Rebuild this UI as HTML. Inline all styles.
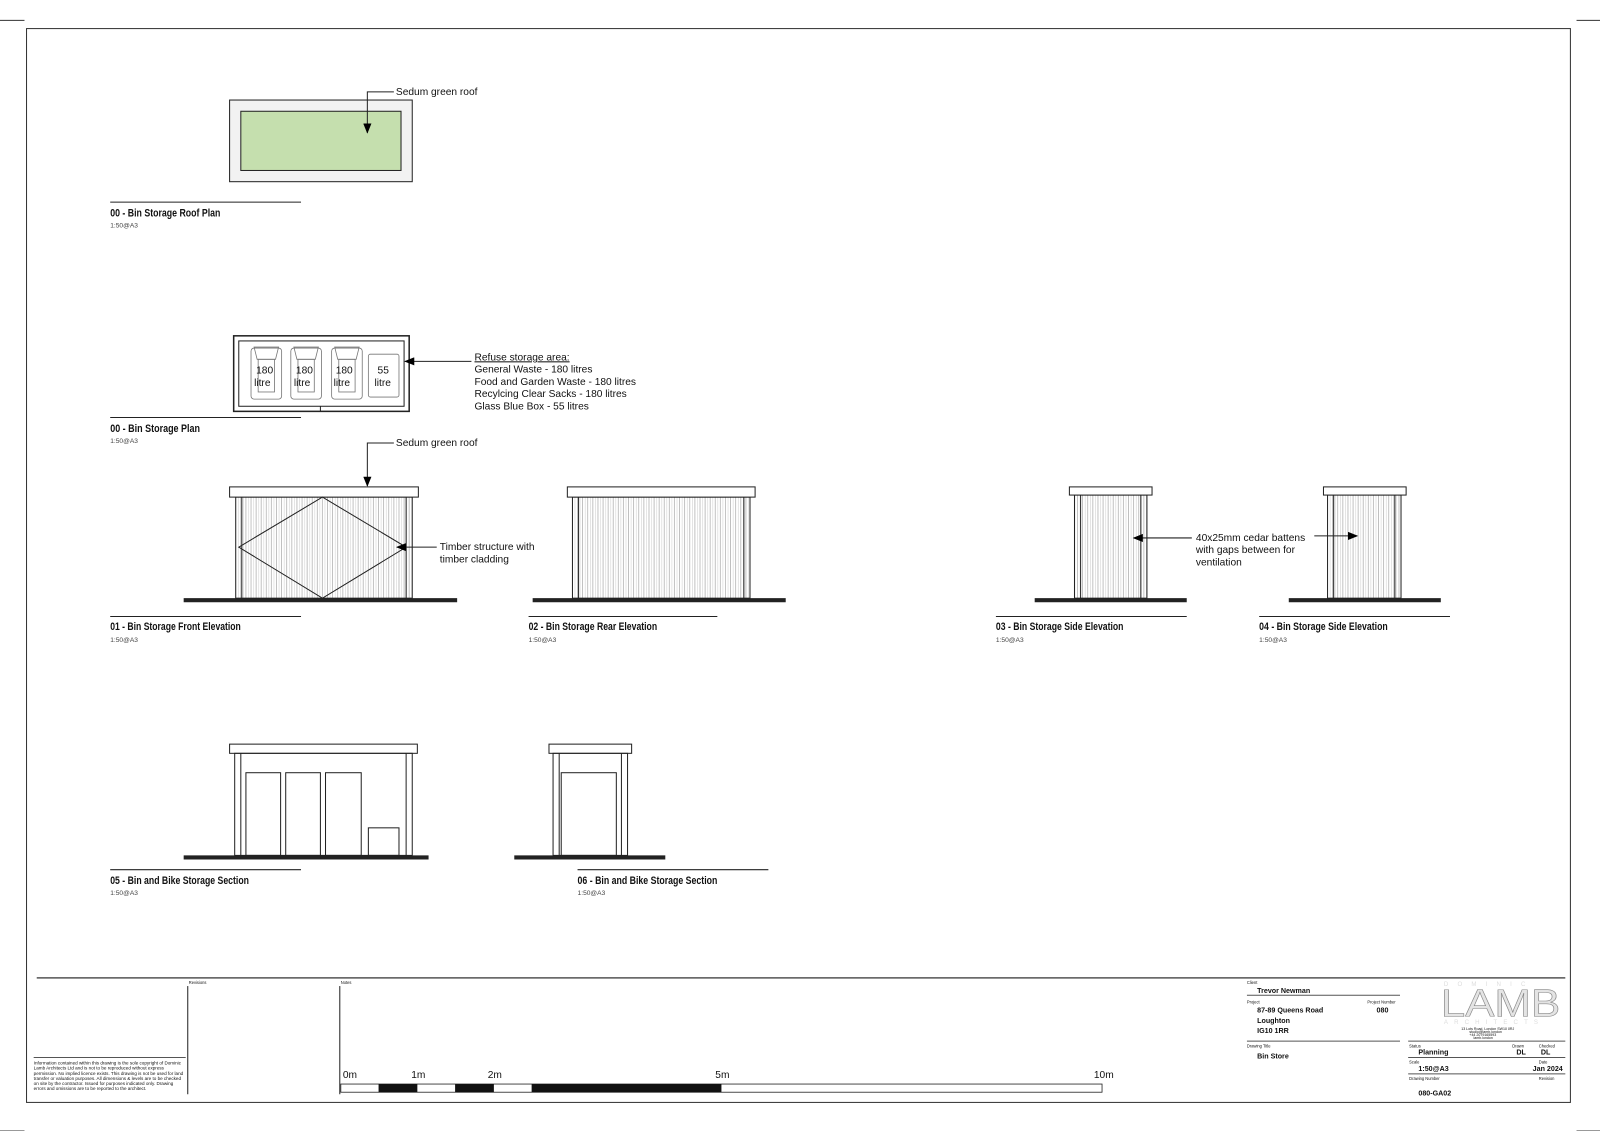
<!DOCTYPE html>
<html><head><meta charset="utf-8"><style>
html,body{margin:0;padding:0;background:#fff}
svg{display:block}
text{font-family:"Liberation Sans",sans-serif;fill:#111}
.t{font-weight:bold;font-size:10.5px;}
.s{font-size:6.5px;fill:#444}
.n{font-size:10px}
</style></head><body>
<svg width="1600" height="1131" viewBox="0 0 1568 1108" preserveAspectRatio="none" xmlns="http://www.w3.org/2000/svg">
<defs>
<pattern id="st" width="5" height="10" patternUnits="userSpaceOnUse">
<rect width="5" height="10" fill="#fff"/><line x1="1" y1="0" x2="1" y2="10" stroke="#aaa" stroke-width="0.7"/><line x1="3.5" y1="0" x2="3.5" y2="10" stroke="#ccc" stroke-width="0.5"/>
</pattern>
<marker id="ar" markerWidth="10" markerHeight="8" refX="9" refY="4" orient="auto" markerUnits="userSpaceOnUse"><path d="M0,0 L10,4 L0,8 z" fill="#000"/></marker>
</defs>
<rect x="26" y="28" width="1513" height="1052" fill="none" stroke="#333" stroke-width="1"/>
<line x1="0" y1="20" x2="24" y2="20" stroke="#333"/><line x1="1545" y1="20" x2="1568" y2="20" stroke="#333"/>
<line x1="0" y1="1108" x2="24" y2="1108" stroke="#333"/><line x1="1545" y1="1108" x2="1568" y2="1108" stroke="#333"/>

<g stroke="#222" stroke-width="1" fill="none">
<rect x="225" y="98" width="179" height="80" fill="#f2f2f2"/>
<rect x="236" y="109" width="157" height="58" fill="#c5dfae"/>
<polyline points="386,90 360,90 360,130" marker-end="url(#ar)"/>
<line x1="108" y1="198" x2="295" y2="198"/>
<rect x="229" y="329" width="172" height="74" stroke-width="1.5"/>
<rect x="234" y="334" width="162" height="64"/>
<line x1="314" y1="398" x2="314" y2="403"/>
<g stroke="#777" stroke-width="0.8">
<rect x="246" y="341" width="30" height="50" rx="3"/><rect x="285" y="341" width="30" height="50" rx="3"/><rect x="325" y="341" width="30" height="50" rx="3"/>
<path d="M249,340 l3,12 h18 l3,-12 z M288,340 l3,12 h18 l3,-12 z M328,340 l3,12 h18 l3,-12 z"/>
<rect x="253" y="352" width="16" height="32"/><rect x="292" y="352" width="16" height="32"/><rect x="332" y="352" width="16" height="32"/>
<rect x="361" y="347" width="30" height="42" rx="2"/>
</g>
<line x1="462" y1="354" x2="397" y2="354" marker-end="url(#ar)"/>
<line x1="108" y1="409" x2="295" y2="409"/>

<polyline points="386,434 360,434 360,476" marker-end="url(#ar)"/>
<rect x="231" y="487" width="173" height="99" fill="url(#st)"/>
<rect x="225" y="477" width="185" height="10" fill="#fff"/>
<line x1="237" y1="487" x2="237" y2="586"/><line x1="398" y1="487" x2="398" y2="586"/>
<polygon points="234,536 316,487 398,536 316,586"/>
<line x1="428" y1="536" x2="389" y2="536" marker-end="url(#ar)"/>
<line x1="180" y1="588" x2="448" y2="588" stroke-width="4"/>
<line x1="108" y1="604" x2="295" y2="604"/>
<rect x="561" y="487" width="174" height="99" fill="url(#st)"/>
<rect x="556" y="477" width="184" height="10" fill="#fff"/>
<line x1="567" y1="487" x2="567" y2="586"/><line x1="729" y1="487" x2="729" y2="586"/>
<line x1="522" y1="588" x2="770" y2="588" stroke-width="4"/>
<line x1="518" y1="604" x2="703" y2="604"/>
<rect x="1053" y="485" width="71" height="101" fill="url(#st)"/>
<rect x="1048" y="477" width="81" height="8" fill="#fff"/>
<line x1="1059" y1="485" x2="1059" y2="586"/><line x1="1118" y1="485" x2="1118" y2="586"/>
<line x1="1168" y1="527" x2="1111" y2="527" marker-end="url(#ar)"/>
<line x1="1014" y1="588" x2="1163" y2="588" stroke-width="4"/>
<line x1="976" y1="604" x2="1163" y2="604"/>
<rect x="1301" y="485" width="72" height="101" fill="url(#st)"/>
<rect x="1297" y="477" width="81" height="8" fill="#fff"/>
<line x1="1307" y1="485" x2="1307" y2="586"/><line x1="1367" y1="485" x2="1367" y2="586"/>
<line x1="1288" y1="525" x2="1330" y2="525" marker-end="url(#ar)"/>
<line x1="1263" y1="588" x2="1412" y2="588" stroke-width="4"/>
<line x1="1234" y1="604" x2="1421" y2="604"/>
<rect x="230" y="738" width="174" height="100"/>
<rect x="225" y="729" width="184" height="9"/>
<line x1="236" y1="738" x2="236" y2="838"/><line x1="398" y1="738" x2="398" y2="838"/>
<rect x="241" y="757" width="34" height="81"/><rect x="280" y="757" width="34" height="81"/><rect x="319" y="757" width="35" height="81"/>
<rect x="361" y="811" width="30" height="27"/>
<line x1="180" y1="840" x2="420" y2="840" stroke-width="4"/>
<line x1="108" y1="852" x2="295" y2="852"/>
<rect x="542" y="738" width="73" height="100"/>
<rect x="538" y="729" width="81" height="9"/>
<line x1="548" y1="738" x2="548" y2="838"/><line x1="609" y1="738" x2="609" y2="838"/>
<rect x="550" y="757" width="54" height="81"/>
<line x1="504" y1="840" x2="652" y2="840" stroke-width="4"/>
<line x1="566" y1="852" x2="753" y2="852"/>

<line x1="36" y1="958" x2="1534" y2="958" stroke="#555" stroke-width="1.5"/>
<line x1="184" y1="966" x2="184" y2="1072"/>
<line x1="333" y1="966" x2="333" y2="1072"/>
<line x1="33" y1="1036" x2="182" y2="1036" stroke="#555"/>
<rect x="334" y="1062" width="746" height="8" stroke-width="0.8"/>
<line x1="1222" y1="975" x2="1372" y2="975" stroke="#555"/>
<line x1="1222" y1="1020" x2="1372" y2="1020" stroke="#555"/>
<line x1="1380" y1="1020" x2="1534" y2="1020" stroke="#555"/>
<line x1="1380" y1="1036" x2="1534" y2="1036" stroke="#555"/>
<line x1="1380" y1="1052" x2="1534" y2="1052" stroke="#555"/>
</g>
<rect x="371" y="1062" width="38" height="8" fill="#111"/>
<rect x="446" y="1062" width="38" height="8" fill="#111"/>
<rect x="521" y="1062" width="186" height="8" fill="#111"/>

<text x="388" y="93" class="n">Sedum green roof</text>
<text x="108" y="212" class="t" textLength="108" lengthAdjust="spacingAndGlyphs">00 - Bin Storage Roof Plan</text><text x="108" y="223" class="s">1:50@A3</text>
<g class="n">
<text x="251" y="366">180</text><text x="249" y="378">litre</text>
<text x="290" y="366">180</text><text x="288" y="378">litre</text>
<text x="329" y="366">180</text><text x="327" y="378">litre</text>
<text x="370" y="366">55</text><text x="367" y="378">litre</text>
</g>
<text x="465" y="353" class="n" text-decoration="underline">Refuse storage area:</text>
<text x="465" y="365" class="n">General Waste - 180 litres</text>
<text x="465" y="377" class="n">Food and Garden Waste - 180 litres</text>
<text x="465" y="389" class="n">Recylcing Clear Sacks - 180 litres</text>
<text x="465" y="401" class="n">Glass Blue Box - 55 litres</text>
<text x="108" y="423" class="t" textLength="88" lengthAdjust="spacingAndGlyphs">00 - Bin Storage Plan</text><text x="108" y="434" class="s">1:50@A3</text>
<text x="388" y="437" class="n">Sedum green roof</text>
<text x="431" y="539" class="n">Timber structure with</text>
<text x="431" y="551" class="n">timber cladding</text>
<text x="1172" y="530" class="n">40x25mm cedar battens</text>
<text x="1172" y="542" class="n">with gaps between for</text>
<text x="1172" y="554" class="n">ventilation</text>
<text x="108" y="617" class="t" textLength="128" lengthAdjust="spacingAndGlyphs">01 - Bin Storage Front Elevation</text><text x="108" y="629" class="s">1:50@A3</text>
<text x="518" y="617" class="t" textLength="126" lengthAdjust="spacingAndGlyphs">02 - Bin Storage Rear Elevation</text><text x="518" y="629" class="s">1:50@A3</text>
<text x="976" y="617" class="t" textLength="125" lengthAdjust="spacingAndGlyphs">03 - Bin Storage Side Elevation</text><text x="976" y="629" class="s">1:50@A3</text>
<text x="1234" y="617" class="t" textLength="126" lengthAdjust="spacingAndGlyphs">04 - Bin Storage Side Elevation</text><text x="1234" y="629" class="s">1:50@A3</text>
<text x="108" y="866" class="t" textLength="136" lengthAdjust="spacingAndGlyphs">05 - Bin and Bike Storage Section</text><text x="108" y="877" class="s">1:50@A3</text>
<text x="566" y="866" class="t" textLength="137" lengthAdjust="spacingAndGlyphs">06 - Bin and Bike Storage Section</text><text x="566" y="877" class="s">1:50@A3</text>

<g>
<text x="185" y="964" font-size="4">Revisions</text>
<text x="334" y="964" font-size="4">Notes</text>
<g font-size="4.5" style="fill:#666">
<text x="33" y="1043">Information contained within this drawing is the sole copyright of Dominic</text>
<text x="33" y="1048">Lamb Architects Ltd and is not to be reproduced without express</text>
<text x="33" y="1053">permission. No implied licence exists. This drawing is not be used for land</text>
<text x="33" y="1058">transfer or valuation purposes. All dimensions &amp; levels are to be checked</text>
<text x="33" y="1063">on site by the contractor. Issued for purposes indicated only. Drawing</text>
<text x="33" y="1068">errors and omissions are to be reported to the architect.</text>
</g>
<g font-size="10"><text x="336" y="1056">0m</text><text x="403" y="1056">1m</text><text x="478" y="1056">2m</text><text x="701" y="1056">5m</text><text x="1072" y="1056">10m</text></g>
<g font-size="4" style="fill:#555"><text x="1222" y="964">Client</text><text x="1222" y="983">Project</text><text x="1340" y="983">Project Number</text><text x="1222" y="1026">Drawing Title</text>
<text x="1381" y="1026">Status</text><text x="1482" y="1026">Drawn</text><text x="1508" y="1026">Checked</text>
<text x="1381" y="1042">Scale</text><text x="1508" y="1042">Date</text><text x="1381" y="1058">Drawing Number</text><text x="1508" y="1058">Revision</text></g>
<g font-size="7" font-weight="bold">
<text x="1232" y="973">Trevor Newman</text>
<text x="1232" y="992">87-89 Queens Road</text><text x="1349" y="992">080</text>
<text x="1232" y="1002">Loughton</text><text x="1232" y="1012">IG10 1RR</text>
<text x="1232" y="1037">Bin Store</text>
<text x="1390" y="1033">Planning</text><text x="1486" y="1033">DL</text><text x="1510" y="1033">DL</text>
<text x="1390" y="1049">1:50@A3</text><text x="1502" y="1049">Jan 2024</text>
<text x="1390" y="1073">080-GA02</text>
</g>
</g>
<text x="1412" y="996" font-size="38" style="fill:#e4e4e4;stroke:#888;stroke-width:0.6" textLength="117" lengthAdjust="spacingAndGlyphs">LAMB</text>
<text x="1415" y="966" font-size="6" style="fill:#ddd" letter-spacing="9">DOMINIC</text>
<text x="1415" y="1003" font-size="6" style="fill:#ddd" letter-spacing="6">ARCHITECTS</text>
<g font-size="3.5"><text x="1432" y="1009">13 Lots Road, London SW10 0RJ</text><text x="1440" y="1012">studio@lamb.london</text><text x="1440" y="1015">+44 2079165593</text><text x="1444" y="1018">lamb.london</text></g>
</svg>
</body></html>
